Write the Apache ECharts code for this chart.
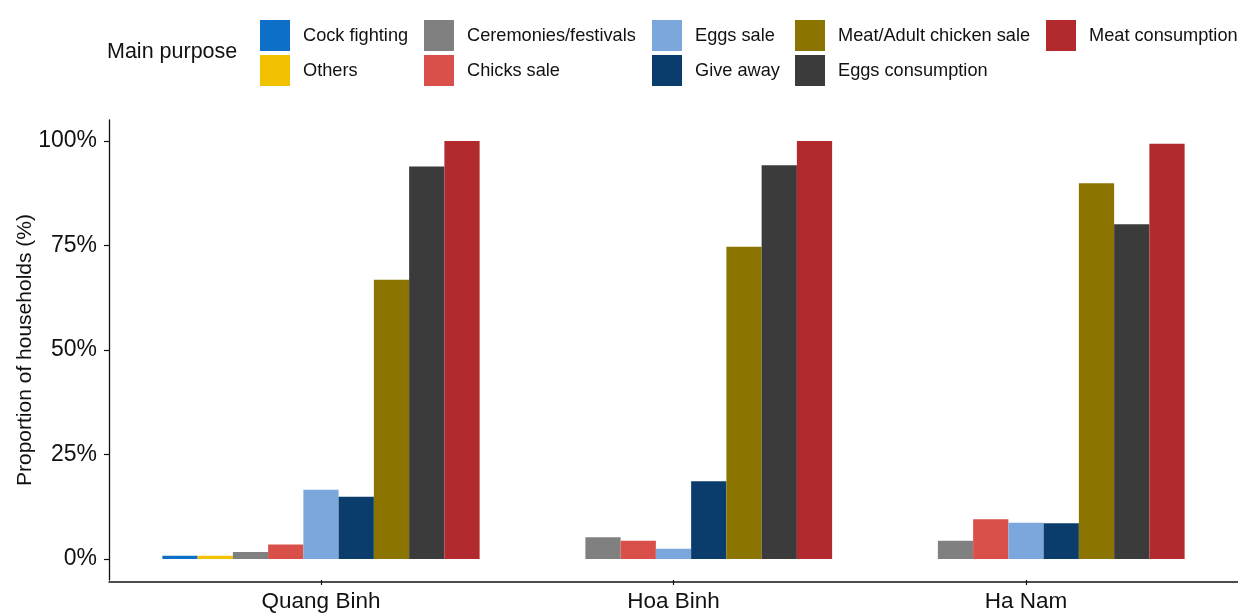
<!DOCTYPE html>
<html>
<head>
<meta charset="utf-8">
<script src="https://cdn.jsdelivr.net/npm/echarts@6/dist/echarts.min.js"></script>
<style>
  html, body { margin: 0; padding: 0; background: #fff; }
  #chart { width: 1245px; height: 613px; }
</style>
</head>
<body>
<div id="chart"></div>
<script>
// Provinces on the x axis
const provinces = ['Quang Binh', 'Hoa Binh', 'Ha Nam'];

// Share of households (%) naming each purpose, per province (null = not reported)
const cockFighting    = [0.8, null, null];
const others          = [0.8, null, null];
const ceremonies      = [1.7, 5.2, 4.4];
const chicksSale      = [3.5, 4.4, 9.5];
const eggsSale        = [16.6, 2.5, 8.7];
const giveAway        = [14.9, 18.6, 8.6];
const meatAdultSale   = [66.8, 74.7, 89.9];
const eggsConsumption = [93.9, 94.2, 80.1];
const meatConsumption = [100, 100, 99.3];

// Y axis tick values
const yTicks = [0, 25, 50, 75, 100];

const purposes = [
  { name: 'Cock fighting',           data: cockFighting,    color: '#0E6FC8' },
  { name: 'Others',                  data: others,          color: '#F2C200' },
  { name: 'Ceremonies/festivals',    data: ceremonies,      color: '#808080' },
  { name: 'Chicks sale',             data: chicksSale,      color: '#D9504A' },
  { name: 'Eggs sale',               data: eggsSale,        color: '#7BA7DD' },
  { name: 'Give away',               data: giveAway,        color: '#0A3D6B' },
  { name: 'Meat/Adult chicken sale', data: meatAdultSale,   color: '#8B7400' },
  { name: 'Eggs consumption',        data: eggsConsumption, color: '#3B3B3B' },
  { name: 'Meat consumption',        data: meatConsumption, color: '#B32A2E' }
];

const FONT = 'Liberation Sans, Arial, sans-serif';
const INK = '#111';

// Legend laid out as five columns of two entries
const legendColumns = [
  { left: 260,  items: ['Cock fighting', 'Others'] },
  { left: 424,  items: ['Ceremonies/festivals', 'Chicks sale'] },
  { left: 652,  items: ['Eggs sale', 'Give away'] },
  { left: 795,  items: ['Meat/Adult chicken sale', 'Eggs consumption'] },
  { left: 1046, items: ['Meat consumption'] }
];

const chart = echarts.init(document.getElementById('chart'), null, { renderer: 'canvas' });

chart.setOption({
  animation: false,
  backgroundColor: '#ffffff',
  color: purposes.map(p => p.color),
  legend: legendColumns.map(col => ({
    orient: 'vertical',
    left: col.left,
    top: 20,
    padding: 0,
    itemWidth: 30,
    itemHeight: 31,
    itemGap: 4,
    icon: 'rect',
    selectedMode: false,
    data: col.items,
    textStyle: { fontFamily: FONT, fontSize: 18.2, color: INK, padding: [0, 0, 0, 8] }
  })),
  grid: { left: 144.75, right: 42.75, top: 120, bottom: 31, containLabel: false },
  xAxis: {
    type: 'category',
    data: provinces,
    axisLine: { show: false, onZero: false },
    axisTick: { show: true, alignWithLabel: true, length: 5, lineStyle: { color: INK, width: 1.2 } },
    axisLabel: { fontFamily: FONT, fontSize: 22.5, color: INK, margin: 10 },
    splitLine: { show: false }
  },
  yAxis: {
    type: 'value',
    min: -5,
    max: 105,
    offset: 35.75,
    name: 'Proportion of households (%)',
    nameLocation: 'middle',
    nameRotate: 90,
    nameGap: 73,
    nameMoveOverlap: false,
    nameTextStyle: { fontFamily: FONT, fontSize: 21, color: INK },
    axisLine: { show: true, lineStyle: { color: INK, width: 1.3 } },
    axisTick: { show: true, length: 5, customValues: yTicks, lineStyle: { color: INK, width: 1.2 } },
    axisLabel: {
      fontFamily: FONT, fontSize: 23, color: INK, margin: 12,
      customValues: yTicks,
      formatter: v => v + '%'
    },
    splitLine: { show: false }
  },
  series: purposes.map(p => ({
    type: 'bar',
    name: p.name,
    data: p.data,
    barGap: '0%',
    barCategoryGap: '10%',
    itemStyle: { color: p.color }
  })),
  graphic: [
    {
      // legend heading
      type: 'text',
      x: 107,
      y: 52,
      style: { text: 'Main purpose', fontFamily: FONT, fontSize: 21.5, fill: INK, verticalAlign: 'middle' }
    },
    {
      // x axis baseline spanning the full panel
      type: 'line',
      shape: { x1: 108.5, y1: 582, x2: 1238, y2: 582 },
      style: { stroke: INK, lineWidth: 1.3 }
    }
  ]
});
</script>
</body>
</html>
